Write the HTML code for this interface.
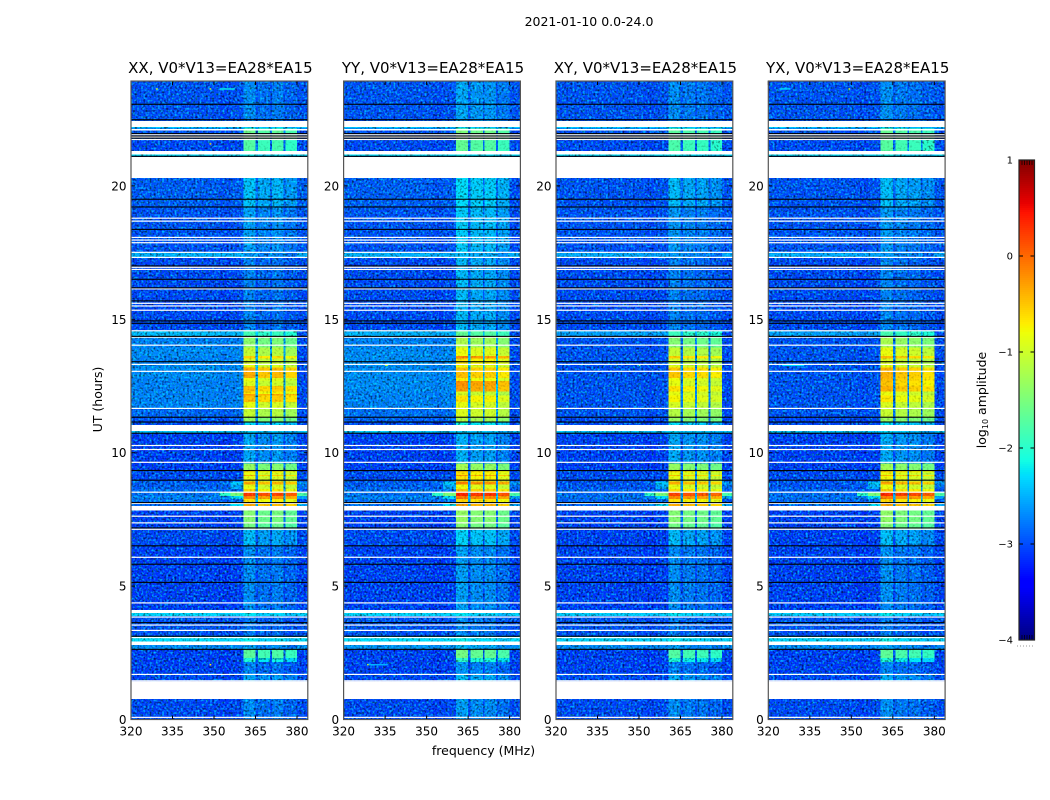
<!DOCTYPE html>
<html lang="en">
<head>
<meta charset="utf-8">
<title>2021-01-10 0.0-24.0</title>
<style>
html,body{margin:0;padding:0;background:#fff;}
svg{display:block;}
text{font-family:"DejaVu Sans","Liberation Sans",sans-serif;fill:#000;}
</style>
</head>
<body>
<svg id="figure" xmlns="http://www.w3.org/2000/svg" width="1050" height="800" viewBox="0 0 1050 800">
  <defs id="defs"></defs>
  <rect x="0" y="0" width="1050" height="800" fill="#fff"/>
  <text x="589" y="26" font-size="12.5" text-anchor="middle">2021-01-10 0.0-24.0</text>
  <text x="483.5" y="755" font-size="12.5" text-anchor="middle">frequency (MHz)</text>
  <text x="0" y="0" font-size="12.5" text-anchor="middle" transform="translate(102,399.5) rotate(-90)">UT (hours)</text>
  <text x="0" y="0" font-size="12.5" text-anchor="middle" transform="translate(986,400) rotate(-90)">log<tspan font-size="8" dy="2">10</tspan><tspan dy="-2"> amplitude</tspan></text>
  <g id="panels"></g>
  <g id="colorbar"></g>
</svg>
<script>
// ---- axes ----
const panelTitles = ["XX, V0*V13=EA28*EA15", "YY, V0*V13=EA28*EA15", "XY, V0*V13=EA28*EA15", "YX, V0*V13=EA28*EA15"];
const xTicks = [320, 335, 350, 365, 380];
const yTicks = [0, 5, 10, 15, 20];
const colorbarTicks = [-4, -3, -2, -1, 0, 1];

// ---- frequency segments (MHz): sky, near shoulder, shoulder, 4 sub-bands with gaps, upper edge ----
const segmentStart = [320, 352, 356, 360.6, 365, 365.9, 370.3, 370.9, 375.1, 375.8, 380];
const segmentRole = ["sky", "near", "shoulder", "sb0", "gap", "sb1", "gap", "sb2", "gap", "sb3", "edge"];

// ---- time bands: start hour of every band (log10 amplitude series below follow this order) ----
const bandStart = [0,1.42,1.7,2.15,2.3,2.63,2.92,3.12,3.87,4.02,6.5,7.13,7.37,8.01,8.13,8.27,8.37,8.52,8.64,8.8,8.92,8.97,9.12,9.17,9.25,9.33,9.6,10.73,11.04,11.15,11.33,11.66,11.9,12.15,12.2,12.3,12.5,12.68,12.8,13.2,13.26,13.53,13.63,13.95,14.36,14.57,17.32,17.51,19.2,20.3,21.11,21.31,21.72,22.15,22.43];

// background level outside the sub-bands
const skyXX = [-3.1,-3.1,-3.15,-3.15,-3.15,-2.75,-2.3,-3.05,-2.35,-3.15,-3.1,-3.15,-3.15,-2.9,-2.9,-2.8,-2.9,-2.9,-3,-3,-3.1,-3.1,-3.1,-3.1,-3.1,-3.15,-3.15,-2.45,-3.1,-3.05,-2.95,-2.8,-2.8,-2.8,-2.8,-2.8,-2.8,-2.8,-2.75,-2.75,-2.8,-2.8,-2.75,-2.8,-2.5,-3.1,-2.55,-3.05,-3,-3,-2.3,-3.1,-3.05,-2.45,-3.05];
const skyYY = [-3.1,-3.1,-3.15,-3.15,-3.15,-2.7,-2.3,-3.05,-2.35,-3.15,-3.1,-3.15,-3.15,-2.9,-2.9,-2.8,-2.9,-2.9,-3,-3,-3.1,-3.1,-3.1,-3.1,-3.1,-3.15,-3.15,-2.45,-3.1,-3,-2.9,-2.8,-2.8,-2.8,-2.8,-2.75,-2.75,-2.75,-2.75,-2.75,-2.75,-2.75,-2.75,-2.8,-2.55,-3.1,-2.55,-3.05,-3,-3,-2.3,-3.1,-3.05,-2.45,-3.05];
const skyXY = [-3.1,-3.1,-3.15,-3.15,-3.15,-2.75,-2.35,-3.05,-2.4,-3.15,-3.15,-3.15,-3.15,-2.95,-2.95,-2.9,-2.95,-2.95,-3.05,-3.05,-3.1,-3.1,-3.1,-3.1,-3.1,-3.15,-3.15,-2.45,-3.1,-3.1,-3.05,-3.05,-3.05,-3.05,-3.05,-3.05,-3.05,-3.05,-3.05,-3.05,-3.05,-3.05,-3.05,-3.05,-2.65,-3.1,-2.6,-3.05,-3.05,-3.05,-2.3,-3.1,-3.05,-2.45,-3.05];
const skyYX = [-3.1,-3.1,-3.15,-3.15,-3.15,-2.75,-2.35,-3.05,-2.4,-3.15,-3.15,-3.15,-3.15,-2.95,-2.95,-2.9,-2.95,-2.95,-3.05,-3.05,-3.1,-3.1,-3.1,-3.1,-3.1,-3.15,-3.15,-2.45,-3.1,-3.1,-3.05,-3.05,-3.05,-3.05,-3.05,-3.05,-3.05,-3.05,-3.05,-3.05,-3.05,-3.05,-3.05,-3.05,-2.65,-3.1,-2.6,-3.05,-3.05,-3.05,-2.3,-3.1,-3.05,-2.45,-3.05];

// level inside the four sub-bands
const bandXX = [-2.85,-2.7,-2.9,-2.2,-1.8,-2.75,-2.3,-2.95,-2.35,-2.85,-2.6,-1.65,-1.55,-0.45,-0.75,-0.25,0.2,-0.7,-0.95,-0.4,-1.05,-0.95,-0.5,-0.95,-0.75,-1.45,-2.7,-2.45,-2.4,-1.45,-1.15,-0.95,-0.55,-0.35,-0.75,-0.55,-1,-0.9,-0.45,-0.9,-1.05,-0.65,-1.15,-1.5,-1.95,-2.9,-2.8,-2.75,-2.55,-2.55,-2.3,-1.85,-1.7,-2.45,-2.85];
const bandYY = [-2.75,-2.6,-2.8,-2.1,-1.65,-2.6,-2.3,-2.85,-2.35,-2.75,-2.45,-1.55,-1.45,-0.4,-0.65,-0.15,0.3,-0.55,-0.9,-0.2,-0.95,-0.75,-0.35,-0.75,-0.65,-1.35,-2.65,-2.45,-2.25,-1.25,-1,-0.95,-0.75,-1.05,-1.05,-0.35,-0.3,-0.8,-0.55,-0.9,-0.75,-0.25,-0.9,-1.3,-1.75,-2.6,-2.6,-2.5,-2.4,-2.4,-2.3,-1.75,-1.6,-2.45,-2.7];
const bandXY = [-2.85,-2.7,-2.9,-2.2,-1.85,-2.75,-2.3,-2.95,-2.35,-2.85,-2.6,-1.65,-1.55,-0.45,-0.75,-0.25,0.15,-0.7,-0.95,-0.45,-1.05,-0.95,-0.55,-0.95,-0.75,-1.45,-2.7,-2.45,-2.4,-1.45,-1.25,-1.05,-0.85,-0.95,-0.95,-0.75,-0.95,-0.9,-0.6,-0.95,-1.1,-0.65,-1.15,-1.55,-2,-2.9,-2.8,-2.8,-2.6,-2.6,-2.3,-1.9,-1.8,-2.45,-2.85];
const bandYX = [-2.85,-2.7,-2.9,-2.2,-1.8,-2.75,-2.3,-2.95,-2.35,-2.85,-2.6,-1.6,-1.5,-0.45,-0.7,-0.2,0.25,-0.65,-0.95,-0.4,-1.05,-0.9,-0.5,-0.95,-0.7,-1.4,-2.7,-2.45,-2.4,-1.45,-1.15,-1.05,-0.8,-0.95,-0.95,-0.5,-0.6,-0.55,-0.5,-0.95,-1.05,-0.55,-0.95,-1.35,-1.95,-2.9,-2.8,-2.8,-2.6,-2.6,-2.3,-1.85,-1.75,-2.45,-2.85];

// per sub-band offset for each polarisation
const tiltXX = [0.1, -0.05, 0.02, -0.12];
const tiltYY = [0.1, 0, 0, -0.15];
const tiltXY = [0.1, 0, -0.03, -0.12];
const tiltYX = [0.12, 0, -0.05, -0.15];

// bands whose emission leaks outside the sub-bands
const shoulderBands = [15, 16, 18, 19, 13];
const shoulderLevels = [-2.3, -1.5, -2.6, -2.4, -2.3];

// flagged (blank) data and dead-integration lines, hours
const flagStart = [0.77, 2.79, 3.99, 7.83, 10.81, 20.3, 21.18, 22.21, 22.08];
const flagEnd = [1.42, 2.92, 4.1, 8.01, 11.04, 21.08, 21.31, 22.43, 22.13];
const flagLines = [0.08,1.45,1.69,3.07,3.34,3.54,3.84,4.37,6.08,7.13,7.37,7.62,8.1,8.52,9.64,10.12,10.27,11.66,13.05,13.31,14.03,14.33,14.57,15.34,15.5,15.6,16.14,16.87,16.95,17.32,17.51,17.87,17.97,18.07,18.68,18.79,21.74,21.83,21.92];
const deadLines = [2.63,3.12,3.63,5.14,5.82,6.51,7.18,8.13,8.97,9.33,10.73,11.15,11.33,13.41,14.36,14.85,14.94,15.69,16.18,16.5,17,18.37,19.21,19.5,21.11,21.79,21.87,21.96,22.48,23.06];

// narrow interference spots: hour, start MHz, end MHz, level
const rfiHourXX = [23.66, 23.66, 23.66, 2.08, 21.6];
const rfiLowXX = [329, 348.4, 352, 348.4, 348.4];
const rfiHighXX = [329.7, 349, 357.5, 349, 349];
const rfiLevelXX = [-1, -1, -2.2, -0.7, -0.5];
const rfiHourYY = [2.08, 2.08, 13.3];
const rfiLowYY = [328.5, 329, 335];
const rfiHighYY = [329, 336, 336];
const rfiLevelYY = [-0.9, -2.5, -1.2];
const rfiHourXY = [13.3];
const rfiLowXY = [350];
const rfiHighXY = [350.5];
const rfiLevelXY = [-1.5];
const rfiHourYX = [23.66, 23.66, 13.3, 13.3];
const rfiLowYX = [324, 349, 325, 342];
const rfiHighYX = [328, 349.6, 333, 342.6];
const rfiLevelYX = [-2.3, -1, -2.3, -1.2];

const skySeries = [skyXX, skyYY, skyXY, skyYX];
const bandSeries = [bandXX, bandYY, bandXY, bandYX];
const tiltSeries = [tiltXX, tiltYY, tiltXY, tiltYX];
const rfiHours = [rfiHourXX, rfiHourYY, rfiHourXY, rfiHourYX];
const rfiLows = [rfiLowXX, rfiLowYY, rfiLowXY, rfiLowYX];
const rfiHighs = [rfiHighXX, rfiHighYY, rfiHighXY, rfiHighYX];
const rfiLevels = [rfiLevelXX, rfiLevelYY, rfiLevelXY, rfiLevelYX];

// ---- layout ----
const NS = "http://www.w3.org/2000/svg";
const panelLeft = [131, 343.6, 556, 768.3];
const panelWidth = 176.8;
const plotBottom = 719.5, pxPerHour = 26.68;
const xMin = 320, xMax = 383.9, yMax = 23.93;
const plotTop = plotBottom - yMax * pxPerHour;
const xScale = (mhz, left) => left + (mhz - xMin) / (xMax - xMin) * panelWidth;
const yScale = h => plotBottom - h * pxPerHour;
const cbarX = 1019, cbarW = 15.5, cbarTop = 160, cbarBottom = 640;
const cbarScale = v => cbarBottom - (v + 4) / 5 * (cbarBottom - cbarTop);

// jet colormap over log10 amplitude -4..1
function interp(pts, t) {
  for (let i = 1; i < pts.length; i++) {
    if (t <= pts[i][0]) {
      const a = pts[i - 1], b = pts[i];
      return a[1] + (b[1] - a[1]) * (t - a[0]) / (b[0] - a[0]);
    }
  }
  return pts[pts.length - 1][1];
}
const jetR = [[0, 0], [0.35, 0], [0.66, 1], [0.89, 1], [1, 0.5]];
const jetG = [[0, 0], [0.125, 0], [0.375, 1], [0.64, 1], [0.91, 0], [1, 0]];
const jetB = [[0, 0.5], [0.11, 1], [0.34, 1], [0.65, 0], [1, 0]];
function jet(level) {
  const t = Math.min(1, Math.max(0, (level + 4) / 5));
  return "rgb(" + Math.round(interp(jetR, t) * 255) + "," + Math.round(interp(jetG, t) * 255) + "," + Math.round(interp(jetB, t) * 255) + ")";
}

function cellLevel(role, sky, sb, sh, tilt) {
  if (role === "sky") return sky;
  if (role === "near") return sh === null ? sky - 0.05 : Math.max(sky, sh - 0.5);
  if (role === "shoulder") return sh === null ? sky : Math.max(sky, sh);
  if (role === "gap") return sky + 0.12 * (sb - sky);
  if (role === "edge") {
    if (sh !== null) return Math.max(sky, sh - 0.3);
    return sb - sky > 0.5 ? Math.min(sky, -3.1) : sky;
  }
  return sb + tilt[Number(role.slice(2))];
}

function makeRect(parent, x, y, w, h, fill) {
  const r = document.createElementNS(NS, "rect");
  r.setAttribute("x", x);
  r.setAttribute("y", y);
  r.setAttribute("width", w);
  r.setAttribute("height", h);
  r.setAttribute("fill", fill);
  parent.appendChild(r);
  return r;
}
function makeLine(parent, x1, y1, x2, y2, color, width) {
  const l = document.createElementNS(NS, "line");
  l.setAttribute("x1", x1);
  l.setAttribute("y1", y1);
  l.setAttribute("x2", x2);
  l.setAttribute("y2", y2);
  l.setAttribute("stroke", color);
  l.setAttribute("stroke-width", width);
  parent.appendChild(l);
  return l;
}
function makeText(parent, x, y, str, size, anchor) {
  const t = document.createElementNS(NS, "text");
  t.setAttribute("x", x);
  t.setAttribute("y", y);
  t.setAttribute("font-size", size);
  t.setAttribute("text-anchor", anchor);
  t.textContent = str;
  parent.appendChild(t);
  return t;
}

// grain filters: texture only, layered on top of the heat map cells
const defs = document.getElementById("defs");
let defsMarkup = "";
for (let i = 0; i < 4; i++) {
  defsMarkup += '<filter id="lift' + i + '" x="0" y="0" width="100%" height="100%" color-interpolation-filters="sRGB"><feTurbulence type="fractalNoise" baseFrequency="0.48" numOctaves="1" seed="' + (i * 7 + 3) + '"/><feColorMatrix type="matrix" values="0 0 0 0 0  2 0 0 0 -0.9  0 0 0 0 0  0 0 0 0 1"/></filter>';
  defsMarkup += '<filter id="dim' + i + '" x="0" y="0" width="100%" height="100%" color-interpolation-filters="sRGB"><feTurbulence type="fractalNoise" baseFrequency="0.48" numOctaves="1" seed="' + (i * 11 + 5) + '"/><feColorMatrix type="matrix" values="0 2.2 0 0 -0.1  0 2.2 0 0 -0.1  0 2.2 0 0 -0.1  0 0 0 0 1"/></filter>';
  defsMarkup += '<clipPath id="clip' + i + '"><rect x="' + panelLeft[i] + '" y="' + plotTop + '" width="' + panelWidth + '" height="' + (plotBottom - plotTop) + '"/></clipPath>';
}
defs.innerHTML = defsMarkup;

const panels = document.getElementById("panels");
const polNames = ["xx", "yy", "xy", "yx"];
panelTitles.forEach(function (title, p) {
  const left = panelLeft[p];
  const right = left + panelWidth;
  const g = document.createElementNS(NS, "g");
  
  
  panels.appendChild(g);

  const plot = document.createElementNS(NS, "g");
  plot.setAttribute("clip-path", "url(#clip" + p + ")");
  plot.setAttribute("style", "isolation:isolate");
  
  
  g.appendChild(plot);

  // heat map cells
  const loudCells = [];
  bandStart.forEach(function (start, b) {
    const end = b + 1 < bandStart.length ? bandStart[b + 1] : yMax;
    const k = shoulderBands.indexOf(b);
    const sh = k >= 0 ? shoulderLevels[k] : null;
    segmentStart.forEach(function (fLow, s) {
      const fHigh = s + 1 < segmentStart.length ? segmentStart[s + 1] : xMax;
      const level = cellLevel(segmentRole[s], skySeries[p][b], bandSeries[p][b], sh, tiltSeries[p]);
      const x0 = xScale(fLow, left), x1 = xScale(fHigh, left);
      const cell = makeRect(plot, x0, yScale(end), x1 - x0, yScale(start) - yScale(end), jet(level));
      cell.setAttribute("shape-rendering", "crispEdges");
      
      
      if (level > -2) loudCells.push(cell);
    });
  });

  // grain
  const lift = makeRect(plot, left, plotTop, panelWidth, plotBottom - plotTop, "#000");
  lift.setAttribute("filter", "url(#lift" + p + ")");
  lift.setAttribute("style", "mix-blend-mode:screen");
  
  
  const dim = makeRect(plot, left, plotTop, panelWidth, plotBottom - plotTop, "#000");
  dim.setAttribute("filter", "url(#dim" + p + ")");
  dim.setAttribute("style", "mix-blend-mode:multiply");
  
  

  // bright cells are nearly noise-free: lay their colour back over the grain
  loudCells.forEach(function (cell) {
    const top = cell.cloneNode(false);
    top.setAttribute("opacity", "0.7");
    
    plot.appendChild(top);
  });

  // interference spots
  rfiHours[p].forEach(function (h, i) {
    const x0 = xScale(rfiLows[p][i], left), x1 = xScale(rfiHighs[p][i], left);
    const spot = makeRect(plot, x0, yScale(h), x1 - x0, 1.4, jet(rfiLevels[p][i]));
    
    
  });

  // flagged data
  flagStart.forEach(function (h, i) {
    const band = makeRect(plot, left, yScale(flagEnd[i]), panelWidth, (flagEnd[i] - h) * pxPerHour, "#fff");
    band.setAttribute("shape-rendering", "crispEdges");
    
    
  });
  flagLines.forEach(function (h) {
    const line = makeRect(plot, left, yScale(h) - 0.6, panelWidth, 1.2, "#fff");
    
    
  });
  deadLines.forEach(function (h) {
    const line = makeRect(plot, left, yScale(h) - 0.55, panelWidth, 1.1, "#000");
    
    
  });

  // ticks
  xTicks.forEach(function (v) {
    const x = xScale(v, left);
    const t1 = makeLine(g, x, plotBottom, x, plotBottom - 4, "#000", 1);
    
    
    const t2 = makeLine(g, x, plotTop, x, plotTop + 4, "#000", 1);
    
    
    const lab = makeText(g, x, 735.5, String(v), 12, "middle");
    
    
  });
  yTicks.forEach(function (v) {
    const y = yScale(v);
    const t1 = makeLine(g, left, y, left + 4, y, "#000", 1);
    
    
    const t2 = makeLine(g, right, y, right - 4, y, "#000", 1);
    
    
    const lab = makeText(g, left - 4.5, y + 4.5, String(v), 12, "end");
    
    
  });

  // frame + title
  const frame = makeRect(g, left, plotTop, panelWidth, plotBottom - plotTop, "none");
  frame.setAttribute("stroke", "#555");
  frame.setAttribute("stroke-width", "1.2");
  
  
  const tt = makeText(g, left + panelWidth / 2 + 1, 73, title, 15, "middle");
  
  
});

// ---- colorbar ----
const cbar = document.getElementById("colorbar");
for (let y = cbarTop; y < cbarBottom; y += 2) {
  const level = -4 + (cbarBottom - y - 1) / (cbarBottom - cbarTop) * 5;
  const seg = makeRect(cbar, cbarX, y, cbarW, 2, jet(level));
  seg.setAttribute("shape-rendering", "crispEdges");
  
  
}
for (let i = 0; i < 5; i++) {
  const x = cbarX + 3 + i * 2.5;
  const m1 = makeLine(cbar, x, cbarTop, x, cbarTop + 5, "#000", 0.7);
  
  
  const m2 = makeLine(cbar, x, cbarBottom, x, cbarBottom - 5, "#000", 0.7);
  
  
}
colorbarTicks.forEach(function (v) {
  const y = cbarScale(v);
  const t1 = makeLine(cbar, cbarX, y, cbarX + 4, y, "#000", 1);
  
  
  const t2 = makeLine(cbar, cbarX + cbarW, y, cbarX + cbarW - 4, y, "#000", 1);
  
  
  const label = v < 0 ? "\u2212" + Math.abs(v) : String(v);
  const lab = makeText(cbar, 1013, y + 3.5, label, 10, "end");
  
  
});
const cbarFrame = makeRect(cbar, cbarX, cbarTop, cbarW, cbarBottom - cbarTop, "none");
cbarFrame.setAttribute("stroke", "#222");
cbarFrame.setAttribute("stroke-width", "1.2");


const dots = makeLine(cbar, 1017, 646, 1035, 646, "#999", 1);
dots.setAttribute("stroke-dasharray", "1 2");


</script>
</body>
</html>
